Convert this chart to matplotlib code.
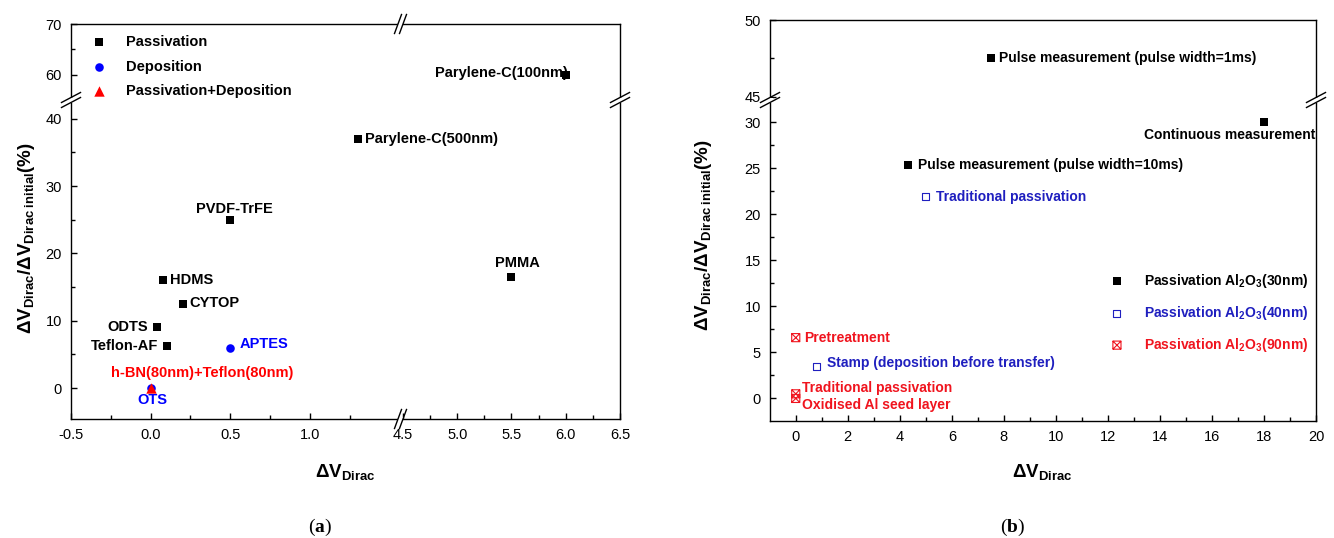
import numpy as np
import matplotlib
matplotlib.use('Agg')
import matplotlib.pyplot as plt
from matplotlib.path import Path
from matplotlib.lines import Line2D
from matplotlib.patches import Rectangle
from matplotlib.ticker import MultipleLocator, FixedLocator

plt.rcParams['font.family'] = ['Liberation Sans', 'DejaVu Sans']
plt.rcParams['axes.unicode_minus'] = False
plt.rcParams['mathtext.fontset'] = 'custom'
plt.rcParams['mathtext.sf'] = 'Liberation Sans:bold'
plt.rcParams['mathtext.rm'] = 'Liberation Serif'
plt.rcParams['mathtext.bf'] = 'Liberation Serif:bold'
plt.rcParams['mathtext.it'] = 'Liberation Serif:italic'

W, H = 1334, 538

###Data (a)###
pas_names = ['Parylene-C(100nm)', 'Parylene-C(500nm)', 'PVDF-TrFE', 'PMMA',
             'HDMS', 'CYTOP', 'ODTS', 'Teflon-AF']
pas_x = [6.0, 1.3, 0.5, 5.5, 0.08, 0.2, 0.04, 0.1]
pas_y = [60, 37, 25, 16.5, 16, 12.5, 9, 6.2]
dep_names = ['APTES', 'OTS']
dep_x = [0.5, 0.0]
dep_y = [6.0, 0.0]
pd_names = ['h-BN(80nm)+Teflon(80nm)']
pd_x = [0.0]
pd_y = [0.0]

###Data (b)###
p30_names = ['Pulse measurement (pulse width=1ms)', 'Continuous measurement',
             'Pulse measurement (pulse width=10ms)']
p30_x = [7.5, 18, 4.3]
p30_y = [47.5, 30, 25.3]
p40_names = ['Traditional passivation', 'Stamp (deposition before transfer)']
p40_x = [5.0, 0.8]
p40_y = [21.9, 3.5]
p90_names = ['Pretreatment', 'Traditional passivation', 'Oxidised Al seed layer']
p90_x = [0, 0, 0]
p90_y = [6.6, 0.5, 0.0]

# label offsets (points) and alignment
off_pas = [(1.5, 1.5, 'right'), (5.5, 0, 'left'), (3, 8, 'center'), (4.4, 10, 'center'),
           (4.7, 0, 'left'), (4.7, 0.7, 'left'), (-6.5, 0.7, 'right'), (-6.2, 0, 'right')]
off_dep = [(6.8, 2.7, 'left'), (1.2, -8.6, 'center')]
off_pd = [(37, 10.6, 'center')]
off_p30 = [(6.1, 0, 'left'), (36.7, -9.1, 'right'), (7.3, 0, 'left')]
off_p40 = [(7.6, 0, 'left'), (7.2, 2, 'left')]
off_p90 = [(5.8, 0, 'left'), (4.8, 4.3, 'left'), (4.8, -4.5, 'left')]

BLUE_B = '#1f1fbf'
RED_B = '#f0141e'

xsq = Path([(-1, -1), (1, -1), (1, 1), (-1, 1), (-1, -1), (-1, -1), (1, 1), (-1, 1), (1, -1)],
           [Path.MOVETO, Path.LINETO, Path.LINETO, Path.LINETO, Path.CLOSEPOLY,
            Path.MOVETO, Path.LINETO, Path.MOVETO, Path.LINETO])

fig = plt.figure(figsize=(W / 100, H / 100), dpi=100)


def add_ax(l, t, r, b):
    ax = fig.add_axes([l / W, 1 - b / H, (r - l) / W, (b - t) / H])
    ax.set_facecolor('none')
    for s in ax.spines.values():
        s.set_linewidth(1.0)
    ax.tick_params(which='both', direction='in', width=1.0, labelsize=10.5, pad=6.5,
                   top=False, right=False)
    ax.tick_params(which='major', length=4.3)
    ax.tick_params(which='minor', length=2.6)
    return ax


def label_pts(ax, names, xs, ys, offs, color, fs):
    for n, x, y, (dx, dy, ha) in zip(names, xs, ys, offs):
        ax.annotate(n, (x, y), xytext=(dx, dy), textcoords='offset points', ha=ha, va='center',
                    fontsize=fs, fontweight='bold', color=color)


def brk_v(px, py):
    fig.add_artist(Rectangle(((px - 2.5) / W, 1 - (py + 2.5) / H), 5 / W, 5 / H,
                             transform=fig.transFigure, facecolor='white', edgecolor='none', zorder=5))
    for dy in (-2.5, 2.5):
        fig.add_artist(Line2D([(px - 9.5) / W, (px + 9.5) / W], [1 - (py + dy + 5) / H, 1 - (py + dy - 5) / H],
                              transform=fig.transFigure, color='k', lw=1.0, zorder=6))


def brk_h(px, py):
    fig.add_artist(Rectangle(((px - 2.5) / W, 1 - (py + 2.5) / H), 5 / W, 5 / H,
                             transform=fig.transFigure, facecolor='white', edgecolor='none', zorder=5))
    for dx in (-2.5, 2.5):
        fig.add_artist(Line2D([(px + dx - 3.5) / W, (px + dx + 3.5) / W], [1 - (py + 9.5) / H, 1 - (py - 9.5) / H],
                              transform=fig.transFigure, color='k', lw=1.0, zorder=6))


###Panel (a)###
xb = 400.5
aUL = add_ax(71, 24, xb, 100)
aUR = add_ax(xb, 24, 620, 100)
aLL = add_ax(71, 100, xb, 419)
aLR = add_ax(xb, 100, 620, 419)

for ax in (aUL, aLL):
    ax.set_xlim(-0.5, 1.568)
for ax in (aUR, aLR):
    ax.set_xlim(4.477, 6.5)
for ax in (aUL, aUR):
    ax.set_ylim(55, 70)
    ax.spines['bottom'].set_visible(False)
    ax.tick_params(which='both', bottom=False, labelbottom=False)
for ax in (aLL, aLR):
    ax.set_ylim(-4.6, 42.8)
    ax.spines['top'].set_visible(False)
for ax in (aUL, aLL):
    ax.spines['right'].set_visible(False)
for ax in (aUR, aLR):
    ax.spines['left'].set_visible(False)
    ax.tick_params(which='both', left=False, labelleft=False)

aLL.xaxis.set_major_locator(FixedLocator([-0.5, 0.0, 0.5, 1.0]))
aLL.xaxis.set_minor_locator(FixedLocator([-0.25, 0.25, 0.75, 1.25]))
aLR.xaxis.set_major_locator(MultipleLocator(0.5))
aLR.xaxis.set_minor_locator(MultipleLocator(0.25))
aLL.yaxis.set_major_locator(MultipleLocator(10))
aLL.yaxis.set_minor_locator(MultipleLocator(5))
aUL.yaxis.set_major_locator(FixedLocator([60, 70]))
aUL.yaxis.set_minor_locator(FixedLocator([65]))

for ax in (aUL, aUR, aLL, aLR):
    h1 = ax.scatter(pas_x, pas_y, marker='s', s=36, c='k', linewidths=0, zorder=3)
    h2 = ax.scatter(dep_x, dep_y, marker='o', s=38, c='blue', linewidths=0, zorder=3)
    h3 = ax.scatter(pd_x, pd_y, marker='^', s=56, c='red', linewidths=0, zorder=4)
    label_pts(ax, pas_names, pas_x, pas_y, off_pas, 'k', 10.5)
    label_pts(ax, dep_names, dep_x, dep_y, off_dep, 'blue', 10.5)
    label_pts(ax, pd_names, pd_x, pd_y, off_pd, 'red', 10.5)
    if ax is aUL:
        leg_a = (h1, h2, h3)

aUL.legend(leg_a, ['Passivation', 'Deposition', 'Passivation+Deposition'],
           loc='upper left', bbox_to_anchor=(92 / W, 1 - 35 / H), bbox_transform=fig.transFigure,
           frameon=False, borderpad=0, borderaxespad=0, handlelength=1.0, handletextpad=1.3,
           labelspacing=0.72, scatterpoints=1, prop=dict(weight='bold', size=10.5))

brk_v(71, 100)
brk_v(620, 100)
brk_h(xb, 24)
brk_h(xb, 419)

ylab = r'$\mathsf{\Delta V_{Dirac}/\Delta V_{Dirac\ initial}(\%)}$'
xlab = r'$\mathsf{\Delta V_{Dirac}}$'
fig.text(27 / W, 1 - 238 / H, ylab, rotation=90, ha='center', va='center', fontsize=13.5)
fig.text(345.5 / W, 1 - 472 / H, xlab, ha='center', va='center', fontsize=13.5)
fig.text(320 / W, 1 - 527 / H, r'$\mathrm{(}\mathbf{a}\mathrm{)}$', ha='center', va='center', fontsize=14)

###Panel (b)###
bU = add_ax(770, 20, 1316, 100)
bL = add_ax(770, 100, 1316, 421)
for ax in (bU, bL):
    ax.set_xlim(-0.99, 20)
bU.set_ylim(44.8, 50)
bL.set_ylim(-2.45, 32.4)
bU.spines['bottom'].set_visible(False)
bU.tick_params(which='both', bottom=False, labelbottom=False)
bL.spines['top'].set_visible(False)
bL.xaxis.set_major_locator(MultipleLocator(2))
bL.xaxis.set_minor_locator(MultipleLocator(1))
bL.yaxis.set_major_locator(MultipleLocator(5))
bL.yaxis.set_minor_locator(MultipleLocator(2.5))
bU.yaxis.set_major_locator(MultipleLocator(5))
bU.yaxis.set_minor_locator(MultipleLocator(2.5))

for ax in (bU, bL):
    g1 = ax.scatter(p30_x, p30_y, marker='s', s=37, c='k', linewidths=0, zorder=3)
    g2 = ax.scatter(p40_x, p40_y, marker='s', s=26, facecolors='none', edgecolors=BLUE_B,
                    linewidths=0.8, zorder=3)
    g3 = ax.scatter(p90_x, p90_y, marker=xsq, s=34, facecolors='none', edgecolors=RED_B,
                    linewidths=0.8, zorder=3)
    label_pts(ax, p30_names, p30_x, p30_y, off_p30, 'k', 10)
    label_pts(ax, p40_names, p40_x, p40_y, off_p40, BLUE_B, 10)
    label_pts(ax, p90_names, p90_x, p90_y, off_p90, RED_B, 10)
    if ax is bL:
        leg_b = (g1, g2, g3)

bL.legend(leg_b, [r'Passivation Al$\mathsf{_2}$O$\mathsf{_3}$(30nm)',
                  r'Passivation Al$\mathsf{_2}$O$\mathsf{_3}$(40nm)',
                  r'Passivation Al$\mathsf{_2}$O$\mathsf{_3}$(90nm)'],
          loc='upper left', bbox_to_anchor=(1110 / W, 1 - 272 / H), bbox_transform=fig.transFigure,
          frameon=False, borderpad=0, borderaxespad=0, handlelength=1.0, handletextpad=1.45,
          labelspacing=1.0, scatterpoints=1, labelcolor=['k', BLUE_B, RED_B],
          prop=dict(weight='bold', size=10))

brk_v(770, 100)
brk_v(1316, 100)

fig.text(703 / W, 1 - 235 / H, ylab, rotation=90, ha='center', va='center', fontsize=13.5)
fig.text(1042 / W, 1 - 472 / H, xlab, ha='center', va='center', fontsize=13.5)
fig.text(1013 / W, 1 - 527 / H, r'$\mathrm{(}\mathbf{b}\mathrm{)}$', ha='center', va='center', fontsize=14)

fig.savefig('out.png', dpi=100)
